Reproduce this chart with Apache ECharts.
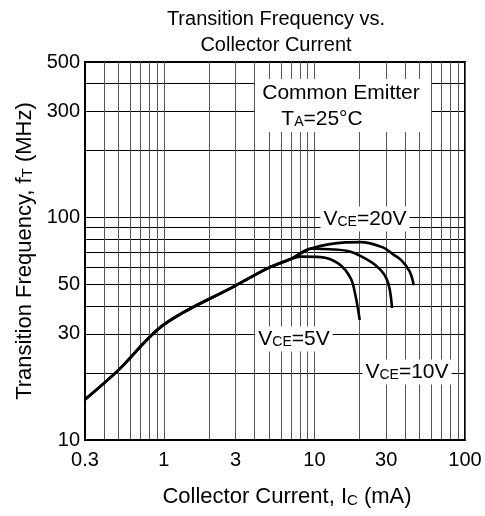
<!DOCTYPE html>
<html><head><meta charset="utf-8">
<script src="https://cdn.jsdelivr.net/npm/echarts@6/dist/echarts.min.js"></script>
<style>html,body{margin:0;padding:0;background:#fff}#c{width:485px;height:516px}</style>
</head><body><div id="c"></div>
<script>
// ---- tick labels / grid values ----
const xLabelValues = [0.3, 1, 3, 10, 30, 100];
const xGridValues = [0.3,0.4,0.5,0.6,0.7,0.8,0.9,1,2,3,4,5,6,7,8,9,10,20,30,40,50,60,70,80,90,100];
const yLabelValues = [10, 30, 50, 100, 300, 500];
const yGridValues = [10,20,30,40,50,60,70,80,90,100,200,300,400,500];

// ---- data: collector current (mA) / transition frequency (MHz) ----
const commonIc = [0.3, 0.5, 1.0, 3.0, 5.0, 7.05];
const commonFt = [15.2, 20.6, 33.0, 49.4, 59.5, 65.3];
const vce5Ic  = [8.1, 11.0, 14.4, 17.4, 18.8, 20.0];
const vce5Ft  = [66.7, 66.4, 62.2, 53.4, 44.2, 34.6];
const vce10Ic = [9.5, 12.8, 17.4, 23.9, 27.5, 30.0, 31.6, 32.8];
const vce10Ft = [72.4, 72.0, 70.1, 63.0, 58.1, 53.4, 47.7, 39.2];
const vce20Ic = [9.5, 16.1, 20.3, 28.5, 33.3, 37.6, 42.9, 45.7];
const vce20Ft = [72.6, 77.3, 77.5, 73.4, 68.3, 64.5, 57.3, 49.6];

const F = '"Liberation Sans", Arial, Helvetica, sans-serif';
function pts(a, b) { return a.map((v, i) => [v, b[i]]); }
function makeRich(size) {
  return {
    n: {fontSize: size, fontFamily: F, color: '#000', lineHeight: size, verticalAlign: 'top'},
    s: {fontSize: Math.round(size * 0.67), fontFamily: F, color: '#000', lineHeight: Math.round(size * 0.67),
        verticalAlign: 'bottom', padding: [Math.round(size * 0.48), 0, 0, 0]}
  };
}
const rich = makeRich(21);
const nameRich = makeRich(22);
function lineSeries(name, ic, ft) {
  return {
    name: name, type: 'line', data: pts(commonIc, commonFt).concat(pts(ic, ft)),
    showSymbol: false, symbol: 'none', smooth: 0.35,
    lineStyle: {color: '#000', width: 2.6}, z: 3
  };
}
const chart = echarts.init(document.getElementById('c'), null, {renderer: 'canvas'});
chart.setOption({
  animation: false,
  grid: {left: 85, right: 20, top: 62, bottom: 76, show: true, borderColor: '#000', borderWidth: 2},
  xAxis: {
    type: 'log', logBase: 10, min: 0.3, max: 100,
    axisLine: {show: true, lineStyle: {color: '#000', width: 2}},
    axisTick: {show: false, customValues: xGridValues},
    axisLabel: {customValues: xLabelValues, formatter: v => String(+(+v).toPrecision(3)),
      fontSize: 20, color: '#000', fontFamily: F, margin: 10},
    splitLine: {show: true, lineStyle: {color: '#555', width: 1}},
    name: '{n|Collector Current, I}{s|C}{n| (mA)}', nameLocation: 'middle', nameGap: 46,
    nameTextStyle: {rich: nameRich, padding: [0, 0, 0, 24]}
  },
  yAxis: {
    type: 'log', logBase: 10, min: 10, max: 500,
    axisLine: {show: true, lineStyle: {color: '#000', width: 2}},
    axisTick: {show: false, customValues: yGridValues},
    axisLabel: {customValues: yLabelValues, formatter: v => String(+(+v).toPrecision(3)),
      fontSize: 20, color: '#000', fontFamily: F, margin: 5},
    splitLine: {show: true, lineStyle: {color: '#000', width: 1}},
    name: '{n|Transition Frequency, f}{s|T}{n| (MHz)}', nameLocation: 'middle', nameGap: 46,
    nameRotate: 90, nameTextStyle: {rich: nameRich}
  },
  series: [
    lineSeries('VCE=5V', vce5Ic, vce5Ft),
    lineSeries('VCE=10V', vce10Ic, vce10Ft),
    lineSeries('VCE=20V', vce20Ic, vce20Ft)
  ],
  graphic: [
    {type: 'text', z: 10, style: {text: 'Transition Frequency vs.\nCollector Current', x: 276, y: 6,
      align: 'center', verticalAlign: 'top', font: '20px ' + F, lineHeight: 26, fill: '#000'}},
    {type: 'rect', z: 8, shape: {x: 255, y: 79, width: 176, height: 53}, style: {fill: '#fff'}},
    {type: 'text', z: 10, style: {text: 'Common Emitter', x: 341, y: 93, align: 'center', verticalAlign: 'middle',
      font: '21px ' + F, fill: '#000'}},
    {type: 'text', z: 10, style: {text: '{n|T}{s|A}{n|=25°C}', rich: rich, x: 322, y: 119, align: 'center', verticalAlign: 'middle'}},
    {type: 'text', z: 10, style: {text: '{n|V}{s|CE}{n|=20V}', rich: rich, x: 365, y: 219, align: 'center', verticalAlign: 'middle',
      backgroundColor: '#fff', padding: [2, 3]}},
    {type: 'text', z: 10, style: {text: '{n|V}{s|CE}{n|=5V}', rich: rich, x: 294, y: 339, align: 'center', verticalAlign: 'middle',
      backgroundColor: '#fff', padding: [2, 3]}},
    {type: 'text', z: 10, style: {text: '{n|V}{s|CE}{n|=10V}', rich: rich, x: 407, y: 372, align: 'center', verticalAlign: 'middle',
      backgroundColor: '#fff', padding: [2, 3]}}
  ]
});
</script></body></html>
